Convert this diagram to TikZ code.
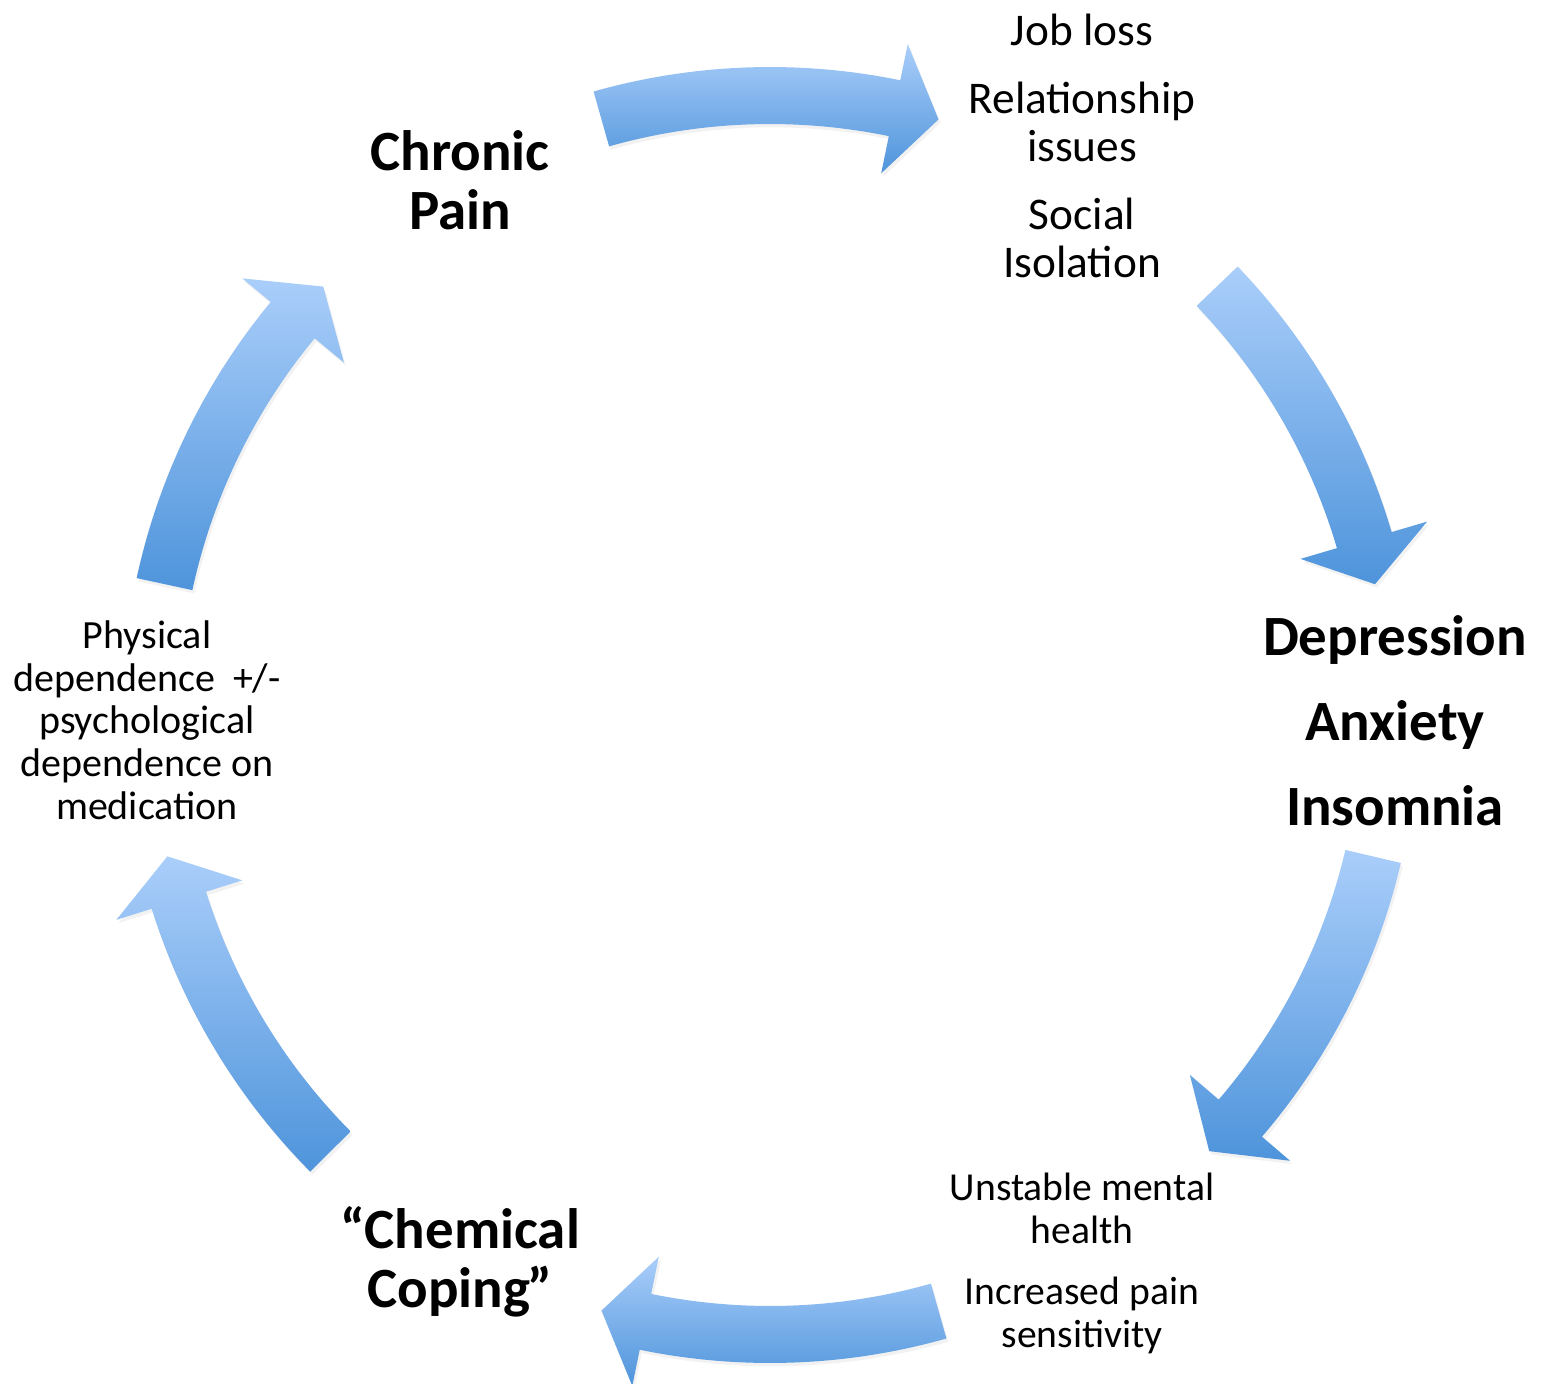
\documentclass[tikz,border=0pt]{standalone}
\usepackage{fontspec}
\setmainfont{Carlito}
\usetikzlibrary{calc,shadows}

\definecolor{arrowtop}{RGB}{170,206,250}
\definecolor{arrowbot}{RGB}{78,148,219}

\tikzset{every picture/.style={line width=0.75pt}}
\tikzset{
  cyclearrow/.style={top color=arrowtop, bottom color=arrowbot, draw=none,
    drop shadow={shadow xshift=1.5pt, shadow yshift=-2.5pt, opacity=0.1}},
  bigtext/.style={align=center, inner sep=0.75pt, font=\bfseries\fontsize{42.7}{44.25}\selectfont},
  smalltext/.style={align=center, inner sep=0.75pt}
}

\begin{document}
\begin{tikzpicture}[x=0.75pt,y=0.75pt,yscale=-1,xscale=1]
	\useasboundingbox (0,0) rectangle (1547,1384);
	\coordinate (hub) at (770,715);
	%Shape: Curved Arrows
	\foreach \m in {-90,-28,29,90,151,208}{
		\pgfmathsetmacro\tl{\m-15.8}
		\pgfmathsetmacro\hb{\m+11.6}
		\pgfmathsetmacro\tp{\m+15.8}
		\path[cyclearrow] ($(hub)+(\tl:648)$) arc[start angle=\tl, end angle=\hb, radius=648]
			-- ($(hub)+(\hb:685)$) -- ($(hub)+(\tp:619)$) -- ($(hub)+(\hb:553)$) -- ($(hub)+(\hb:591)$)
			arc[start angle=\hb, end angle=\tl, radius=591] -- cycle;
	}

	% Text Node
	\node (chronic) at (460,180) [bigtext] {Chronic\\Pain};
	% Text Node
	\node (losses) at (1082,146) [smalltext, font=\fontsize{34}{36}\selectfont] {Job loss\\[15pt]Relationship\\issues\\[15pt]Social\\Isolation};
	% Text Node
	\node (mood) at (1395,721) [bigtext, font=\bfseries\fontsize{42.7}{63.75}\selectfont] {Depression\\Anxiety\\Insomnia};
	% Text Node
	\node (unstable) at (1082,1263) [smalltext, font=\fontsize{29.7}{32.25}\selectfont] {Unstable mental\\health\\[13.5pt]Increased pain\\sensitivity};
	% Text Node
	\node (coping) at (460,1262) [bigtext] {``Chemical\\Coping\kern-2pt''};
	% Text Node
	\node (dependence) at (147,720) [smalltext, font=\fontsize{30}{32}\selectfont] {Physical\\dependence\ \ +/-\\psychological\\dependence on\\medication};
\end{tikzpicture}
\end{document}
